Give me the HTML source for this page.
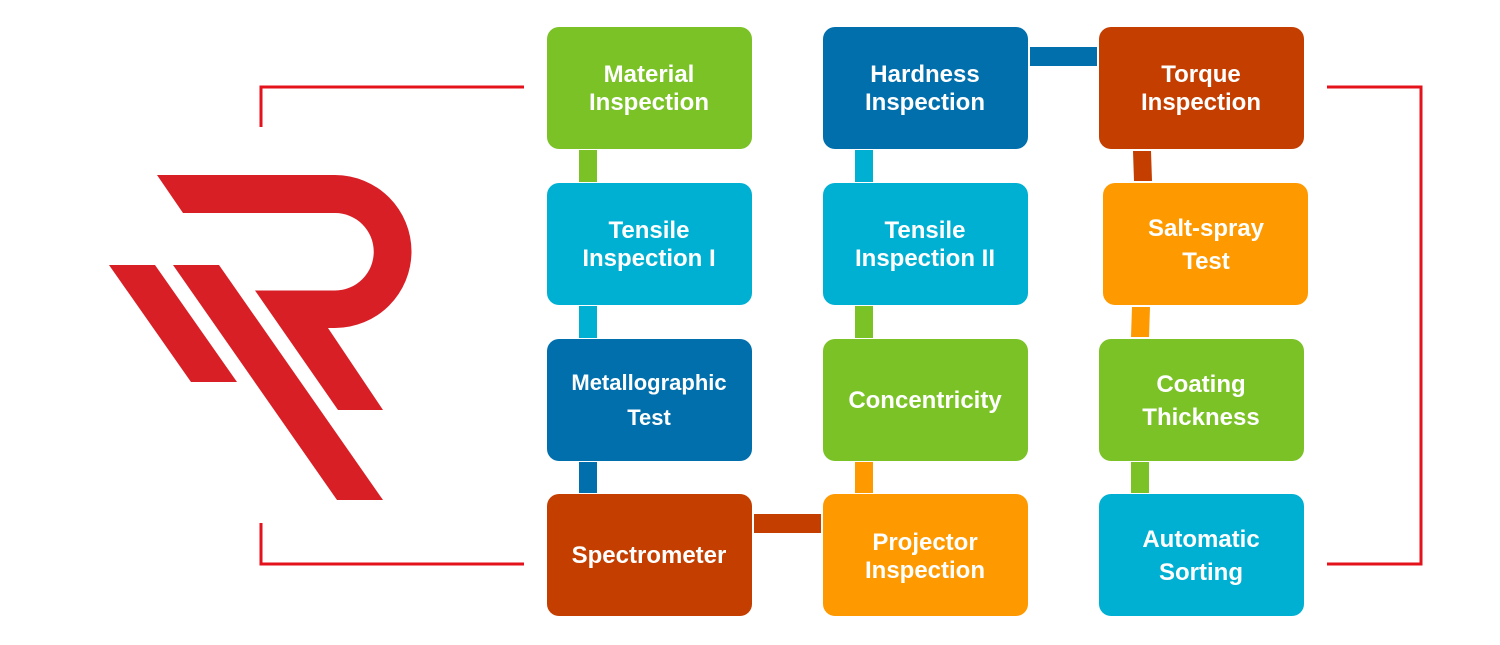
<!DOCTYPE html>
<html><head><meta charset="utf-8"><style>
html,body{margin:0;padding:0;background:#fff;}
svg{display:block;}
svg text{font-family:"Liberation Sans",Arimo,Arial,Helvetica,sans-serif;font-weight:700;fill:#fff;text-anchor:middle;}
</style></head><body>
<svg width="1500" height="645" viewBox="0 0 1500 645" xmlns="http://www.w3.org/2000/svg">
<g fill="#d91f26">
<path d="M157,175 L335,175 A76.5,76.5 0 0 1 335,328 L328,328 L383,410 L338,410 L255,290.5 L335,290.5 A38.75,38.75 0 0 0 335,213 L183,213 Z"/>
<polygon points="109,265 155,265 237,382 191,382"/>
<polygon points="173,265 219,265 383,500 337,500"/>
</g>
<g fill="none" stroke="#e3121b" stroke-width="3">
<polyline points="261,127 261,87 524,87"/>
<polyline points="261,523 261,564 524,564"/>
<polyline points="1327,87 1421,87 1421,564 1327,564"/>
</g>
<rect x="579" y="150" width="18" height="32" fill="#7ac225"/>
<rect x="579" y="306" width="18" height="32" fill="#00b0d2"/>
<rect x="579" y="462" width="18" height="31" fill="#006fac"/>
<rect x="855" y="150" width="18" height="32" fill="#00b0d2"/>
<rect x="855" y="306" width="18" height="32" fill="#7ac225"/>
<rect x="855" y="462" width="18" height="31" fill="#ff9900"/>
<polygon points="1133,151 1151,151 1152,181 1134,181" fill="#c43e00"/>
<polygon points="1132,307 1150,307 1149,337 1131,337" fill="#ff9900"/>
<rect x="1131" y="462" width="18" height="31" fill="#7ac225"/>
<rect x="1030" y="47" width="67" height="19" fill="#006fac"/>
<rect x="754" y="514" width="67" height="19" fill="#c43e00"/>
<rect x="547" y="27" width="205" height="122" rx="12" fill="#7ac225"/>
<rect x="547" y="183" width="205" height="122" rx="12" fill="#00b0d2"/>
<rect x="547" y="339" width="205" height="122" rx="12" fill="#006fac"/>
<rect x="547" y="494" width="205" height="122" rx="12" fill="#c43e00"/>
<rect x="823" y="27" width="205" height="122" rx="12" fill="#006fac"/>
<rect x="823" y="183" width="205" height="122" rx="12" fill="#00b0d2"/>
<rect x="823" y="339" width="205" height="122" rx="12" fill="#7ac225"/>
<rect x="823" y="494" width="205" height="122" rx="12" fill="#ff9900"/>
<rect x="1099" y="27" width="205" height="122" rx="12" fill="#c43e00"/>
<rect x="1103" y="183" width="205" height="122" rx="12" fill="#ff9900"/>
<rect x="1099" y="339" width="205" height="122" rx="12" fill="#7ac225"/>
<rect x="1099" y="494" width="205" height="122" rx="12" fill="#00b0d2"/>
<g font-size="24" font-family="Liberation Sans, Arimo, Arial, sans-serif" font-weight="700">
<text x="649" y="82">Material</text><text x="649" y="110">Inspection</text>
<text x="649" y="238">Tensile</text><text x="649" y="266">Inspection I</text>
<text x="649" y="390" font-size="22">Metallographic</text><text x="649" y="425" font-size="22">Test</text>
<text x="649" y="563">Spectrometer</text>
<text x="925" y="82">Hardness</text><text x="925" y="110">Inspection</text>
<text x="925" y="238">Tensile</text><text x="925" y="266">Inspection II</text>
<text x="925" y="408">Concentricity</text>
<text x="925" y="550">Projector</text><text x="925" y="578">Inspection</text>
<text x="1201" y="82">Torque</text><text x="1201" y="110">Inspection</text>
<text x="1206" y="236">Salt-spray</text><text x="1206" y="269">Test</text>
<text x="1201" y="392">Coating</text><text x="1201" y="425">Thickness</text>
<text x="1201" y="547">Automatic</text><text x="1201" y="580">Sorting</text>
</g>
</svg>
</body></html>
